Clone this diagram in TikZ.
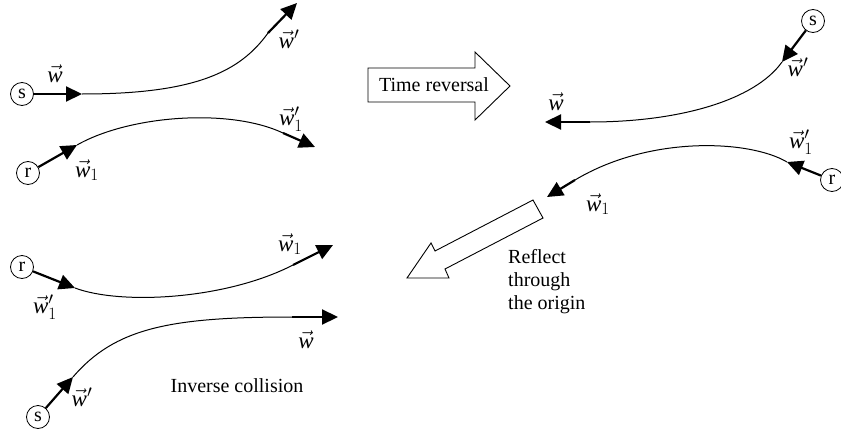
\documentclass[tikz,border=0pt]{standalone}
\usepackage{fontspec}
\setmainfont{Liberation Serif}
\usetikzlibrary{arrows.meta}
\newcommand{\vw}{\vec{\mathit{w}}}
\tikzset{
  part/.style={circle, draw, line width=0.8pt, inner sep=0pt, minimum size=23pt, font=\fontsize{20}{23}\selectfont},
  vel/.style={line width=2.2pt, -{Triangle[length=16pt,width=15pt]}},
  traj/.style={line width=1pt},
  lbl/.style={inner sep=0pt, font=\fontsize{20}{23}\selectfont},
  vlbl/.style={lbl, font=\fontsize{23}{26}\selectfont},
  block/.style={draw, line width=0.9pt, line join=miter},
}
\begin{document}
\begin{tikzpicture}[x=1pt,y=-1pt]
  \useasboundingbox (0,0) rectangle (841,431);
  % collision
  \node[part] (s1) at (22,94) {s};
  \coordinate (s1a) at (82,94); \coordinate (s1b) at (268,33); \coordinate (s1c) at (297,3);
  \draw[vel] (s1) -- (s1a);
  \draw[traj] (s1a) .. controls (195,94) and (240,72) .. (s1b);
  \draw[vel] (s1b) -- (s1c);
  \node[part] (r1) at (28,173) {r};
  \coordinate (r1a) at (77,145); \coordinate (r1b) at (283,133); \coordinate (r1c) at (315,147);
  \draw[vel] (r1) -- (r1a);
  \draw[traj] (r1a) .. controls (130,115) and (230,108) .. (r1b);
  \draw[vel] (r1b) -- (r1c);
  \node[vlbl] (w1) at (55,74) {$\vw$};
  \node[vlbl] (w1p) at (289,39) {$\vw'$};
  \node[vlbl] (v1) at (87,170) {$\vw_1$};
  \node[vlbl] (v1p) at (291,119) {$\vw_1'$};
  % time reversal
  \draw[block] (368,68) -- (475,68) -- (475,52) -- (510,86) -- (475,120) -- (475,102) -- (368,102) -- cycle;
  \node[lbl] (trev) at (434,85) {Time reversal};
  \node[part] (s2) at (813,21) {s};
  \coordinate (s2a) at (782,62); \coordinate (s2b) at (590,122); \coordinate (s2c) at (545,122);
  \draw[vel] (s2) -- (s2a);
  \draw[traj] (s2a) .. controls (755,100) and (680,122) .. (s2b);
  \draw[vel] (s2b) -- (s2c);
  \node[part] (r2) at (832,180) {r};
  \coordinate (r2a) at (787,162); \coordinate (r2b) at (575,180); \coordinate (r2c) at (547,197);
  \draw[vel] (r2) -- (r2a);
  \draw[traj] (r2a) .. controls (750,140) and (650,135) .. (r2b);
  \draw[vel] (r2b) -- (r2c);
  \node[vlbl] (w2) at (556,102) {$\vw$};
  \node[vlbl] (w2p) at (798,67) {$\vw'$};
  \node[vlbl] (v2) at (598,204) {$\vw_1$};
  \node[vlbl] (v2p) at (801,142) {$\vw_1'$};
  % reflection
  \draw[block] (533,200) -- (543,218) -- (445,269) -- (449,278) -- (407,278) -- (431,243) -- (435,251) -- cycle;
  \node[lbl, anchor=west, align=left] (refl) at (508,282) {Reflect\\through\\the origin};
  % inverse collision
  \node[part] (r3) at (22,267) {r};
  \coordinate (r3a) at (75,288); \coordinate (r3b) at (293,265); \coordinate (r3c) at (333,245);
  \draw[vel] (r3) -- (r3a);
  \draw[traj] (r3a) .. controls (120,305) and (225,300) .. (r3b);
  \draw[vel] (r3b) -- (r3c);
  \node[part] (s3) at (38,417) {s};
  \coordinate (s3a) at (73,377); \coordinate (s3b) at (292,317); \coordinate (s3c) at (338,317);
  \draw[vel] (s3) -- (s3a);
  \draw[traj] (s3a) .. controls (115,328) and (170,317) .. (s3b);
  \draw[vel] (s3b) -- (s3c);
  \node[vlbl] (w3) at (306,340) {$\vw$};
  \node[vlbl] (w3p) at (82,397) {$\vw'$};
  \node[vlbl] (v3) at (290,244) {$\vw_1$};
  \node[vlbl] (v3p) at (45,307) {$\vw_1'$};
  \node[lbl] (inv) at (237,386) {Inverse collision};
\end{tikzpicture}
\end{document}
